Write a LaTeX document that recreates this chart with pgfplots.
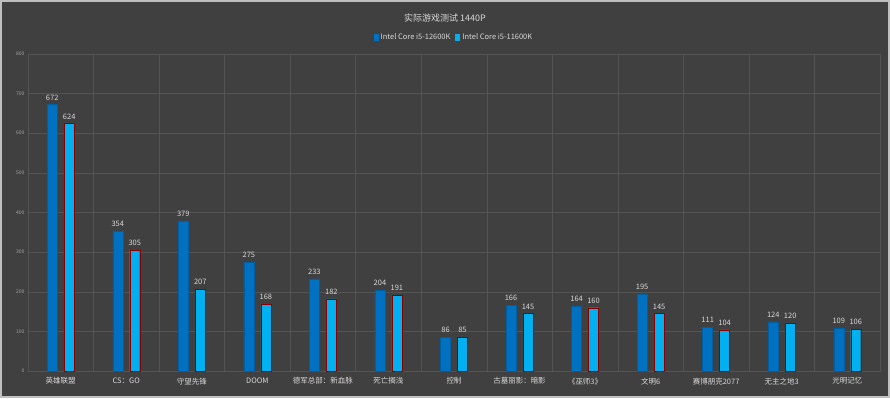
\documentclass[border=0pt]{standalone}
\usepackage{fontspec}
\setmainfont{Noto Sans CJK SC}
\usepackage{pgfplots}
\pgfplotsset{compat=1.18}
\definecolor{bg}{HTML}{404040}
\definecolor{gridc}{HTML}{545454}
\definecolor{txt}{HTML}{D9D9D9}
\definecolor{darkb}{HTML}{0070C0}
\definecolor{lightb}{HTML}{00B0F0}
\begin{document}
\begin{tikzpicture}[x=1pt,y=1pt]
\fill[bg] (0,0) rectangle (890,397);
\draw[color=white!75!black,line width=2pt] (0,0) rectangle (890,397);
\node[text=txt,font=\fontsize{9}{10}\selectfont] at (445,380) {实际游戏测试 1440P};
\begin{axis}[
  at={(27pt,26pt)}, anchor=south west,
  scale only axis, width=854pt, height=318pt,
  xmin=-0.5, xmax=12.5, ymin=0, ymax=800,
  ytick={0,100,...,800},
  xtick={0,...,12},
  xticklabels={英雄联盟,CS：GO,守望先锋,DOOM,德军总部：新血脉,死亡搁浅,控制,古墓丽影：暗影,《巫师3》,文明6,赛博朋克2077,无主之地3,光明记忆},
  minor xtick={-0.5,0.5,...,12.5},
  xminorgrids, ymajorgrids,
  grid style={gridc, line width=0.5pt},
  minor grid style={gridc, line width=0.5pt},
  axis line style={gridc, line width=0.5pt},
  major tick length=0pt, minor tick length=0pt,
  tick label style={text=txt},
  x tick label style={font=\fontsize{7.5}{8}\selectfont, yshift=-3pt},
  y tick label style={font=\fontsize{5}{6}\selectfont, text=white!65!black},
  /pgf/number format/assume math mode=true,
  ybar, bar width=10pt,
  nodes near coords,
  every node near coord/.append style={font=\fontsize{7.5}{8}\selectfont, text=txt, yshift=1pt},
  legend style={at={(0.5,1.052)}, anchor=center, draw=none, fill=none, text=txt, font=\fontsize{7.5}{8}\selectfont, legend columns=2, /tikz/every even column/.append style={column sep=3pt}},
  legend image code/.code={\fill[#1,draw=none] (0pt,-3.5pt) rectangle (5pt,3.5pt);},
]
\addplot[bar shift=-8.5pt, fill=darkb, draw=darkb!85!black, line width=0.4pt] coordinates {
(0,672) (1,354) (2,379) (3,275) (4,233) (5,204) (6,86) (7,166) (8,164) (9,195) (10,111) (11,124) (12,109)};
\addplot[bar shift=8.5pt, fill=lightb, draw=red!55!black, line width=0.4pt] coordinates {
(0,624) (1,305) (2,207) (3,168) (4,182) (5,191) (6,85) (7,145) (8,160) (9,145) (10,104) (11,120) (12,106)};
\legend{Intel Core i5-12600K, Intel Core i5-11600K}
\end{axis}
\end{tikzpicture}
\end{document}
